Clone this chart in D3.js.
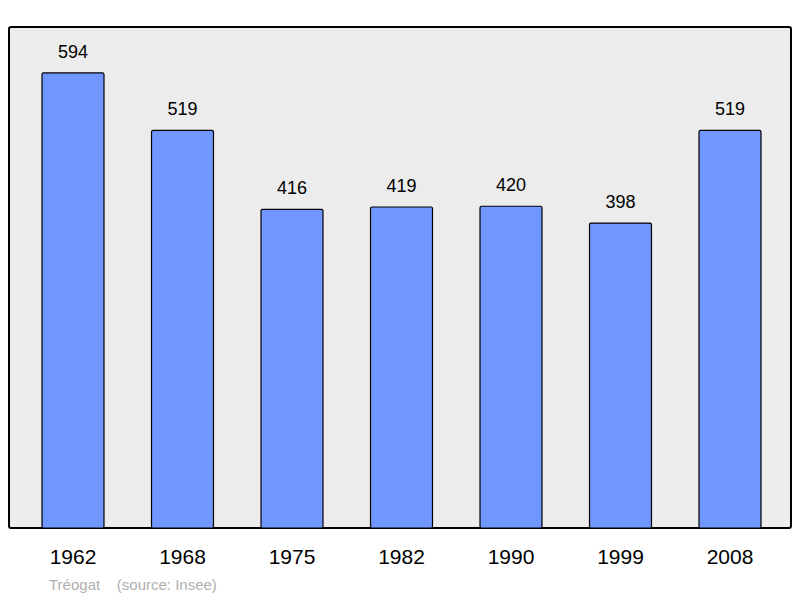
<!DOCTYPE html>
<html><head><meta charset="utf-8">
<script src="https://cdn.jsdelivr.net/npm/d3@7"></script>
<style>body{margin:0;background:#fff}</style></head>
<body><svg id="c" width="800" height="598"></svg>
<script>
const years = ["1962","1968","1975","1982","1990","1999","2008"];
const population = [594,519,416,419,420,398,519];
const sourceText = "Tréogat    (source: Insee)";

const svg = d3.select("#c");
const pTop=27, pBottom=528, pLeft=9, pRight=791;
svg.append("rect").attr("x",pLeft).attr("y",pTop).attr("width",pRight-pLeft).attr("height",pBottom-pTop)
  .attr("rx",2).attr("fill","#ececec").attr("stroke","#000").attr("stroke-width",2);
const x = d3.scaleBand().domain(years).range([18.25,784.75]).paddingInner(0.434).paddingOuter(0.217);
const y = d3.scaleLinear().domain([0,654]).range([pBottom,pTop]);
const g = svg.append("g");
g.selectAll("rect.bar").data(population).join("rect").attr("class","bar")
  .attr("x",(d,i)=>x(years[i])).attr("width",x.bandwidth())
  .attr("y",d=>y(d)).attr("height",d=>pBottom-y(d))
  .attr("fill","#7097ff").attr("stroke","#000").attr("stroke-width",1.2).attr("rx",1.5);
g.selectAll("text.v").data(population).join("text").attr("class","v")
  .attr("x",(d,i)=>x(years[i])+x.bandwidth()/2).attr("y",d=>y(d)-15)
  .attr("text-anchor","middle").attr("font-family","Liberation Sans, Arial, sans-serif")
  .attr("font-size",18).text(d=>d);
g.selectAll("text.yr").data(years).join("text").attr("class","yr")
  .attr("x",d=>x(d)+x.bandwidth()/2).attr("y",564)
  .attr("text-anchor","middle").attr("font-family","Liberation Sans, Arial, sans-serif")
  .attr("font-size",21).text(d=>d);
svg.append("text").attr("x",49).attr("y",590).attr("font-family","Liberation Sans, Arial, sans-serif")
  .attr("font-size",15).attr("fill","#b0b0b0").style("white-space","pre").text(sourceText);
</script></body></html>
